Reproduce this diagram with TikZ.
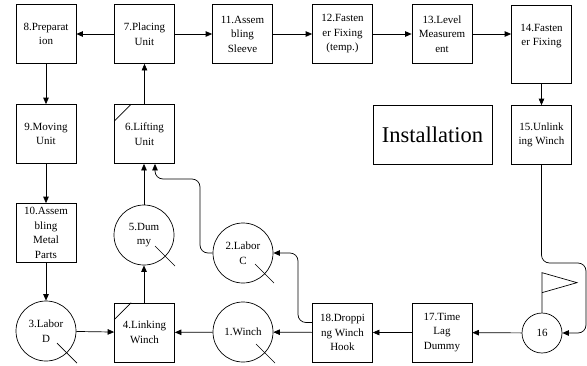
\documentclass[tikz,border=0pt]{standalone}
\usepackage{fontspec}
\setmainfont{Liberation Serif}
\usetikzlibrary{shapes,arrows.meta,positioning}

\begin{document}
\begin{tikzpicture}[x=1pt,y=-1pt]
	\tikzstyle{Box}		= [rectangle, draw, line width=0.7pt, minimum width=60pt, minimum height=59pt, inner sep=1pt, align=center, font=\fontsize{11}{14.5}\selectfont]
	\tikzstyle{Res}		= [circle, draw, line width=0.7pt, minimum size=60pt, inner sep=0pt, align=center, font=\fontsize{11}{14.5}\selectfont]
	\tikzstyle{Flow}	= [line width=0.7pt, -{Triangle[length=6.5pt,width=5.5pt]}]
	\tikzstyle{Tick}	= [line width=0.7pt]
	\tikzstyle{Bend}	= [Flow, rounded corners=8pt]

	\useasboundingbox (0,0) rectangle (587,365);

	% top row
	\node (n8) at (46,34) [Box] {8.Preparat\\ion};
	\node (n7) at (144.5,34) [Box] {7.Placing\\Unit};
	\node (n11) at (242.5,34) [Box] {11.Assem\\bling\\Sleeve};
	\node (n12) at (342.5,34) [Box] {12.Fasten\\er Fixing\\(temp.)};
	\node (n13) at (442,34) [Box] {13.Level\\Measurem\\ent};
	\node (n14) at (541.5,44) [Box, minimum height=78pt] {};
	\node (t14) at (541.5,36) [Box, draw=none, minimum height=0pt] {14.Fasten\\er Fixing};

	% second row
	\node (n9) at (46,134) [Box] {9.Moving\\Unit};
	\node (n6) at (144.5,134) [Box] {6.Lifting\\Unit};
	\node (inst) at (432.5,134.5) [Box, minimum width=119pt, font=\fontsize{22.5}{26}\selectfont] {Installation};
	\node (n15) at (541.5,135) [Box] {15.Unlink\\ing Winch};

	% third row
	\node (n10) at (46,233) [Box] {10.Assem\\bling\\Metal\\Parts};
	\node (n5) at (144,235) [Res] {5.Dum\\my};
	\node (n2) at (243,253) [Res] {2.Labor\\C};

	% bottom row
	\node (n3) at (46,331) [Res] {3.Labor\\D};
	\node (n4) at (144.5,332.5) [Box] {4.Linking\\Winch};
	\node (n1) at (243,332) [Res] {1.Winch};
	\node (n18) at (342.5,332.5) [Box] {18.Droppi\\ng Winch\\Hook};
	\node (n17) at (442,332.5) [Box] {17.Time\\Lag\\Dummy};
	\node (n16) at (542,333) [Res, minimum size=40pt] {16};

	% ticks
	\draw [Tick] (n6.north west) ++(0,17) -- ++(17,-17);
	\draw [Tick] (n4.north west) ++(0,17) -- ++(17,-17);
	\draw [Tick] (n5) ++(11,11) -- ++(20,20);
	\draw [Tick] (n2) ++(12,11) -- ++(19,19);
	\draw [Tick] (n3) ++(11,12) -- ++(20,20);
	\draw [Tick] (n1) ++(13,12) -- ++(19,19);
	\draw [Tick] (n16.north) -- ++(0,-40) -- ++(35,10) -- ++(-35,10);

	% flow
	\draw [Flow] (n7) -- (n8);
	\draw [Flow] (n7) -- (n11);
	\draw [Flow] (n11) -- (n12);
	\draw [Flow] (n12) -- (n13);
	\draw [Flow] (n13) -- (n14.west |- n13);
	\draw [Flow] (n14) -- (n15);
	\draw [Flow] (n8) -- (n9);
	\draw [Flow] (n9) -- (n10);
	\draw [Flow] (n10) -- (n3);
	\draw [Flow] (n6) -- (n7);
	\draw [Flow] (n5) -- (n6.south -| n5);
	\draw [Flow] (n4.north -| n5) -- (n5);
	\draw [Flow] (n3) -- (n4);
	\draw [Flow] (n1) -- (n4);
	\draw [Flow] (n18) -- (n1);
	\draw [Flow] (n17) -- (n18);
	\draw [Flow] (n16) -- (n17);

	\draw [Bend] (n15.south) -- (541.5,263) -- (586,263) -- (586,333) -- (n16.east);
	\draw [Bend] (n18.west) ++(0,-10) -- (298,322.5) -- (298,253) -- (n2.east);
	\draw [Bend] (n2.west) -- (200,253) -- (200,179) -- (155,179) -- ([xshift=10.5pt]n6.south);
\end{tikzpicture}
\end{document}
